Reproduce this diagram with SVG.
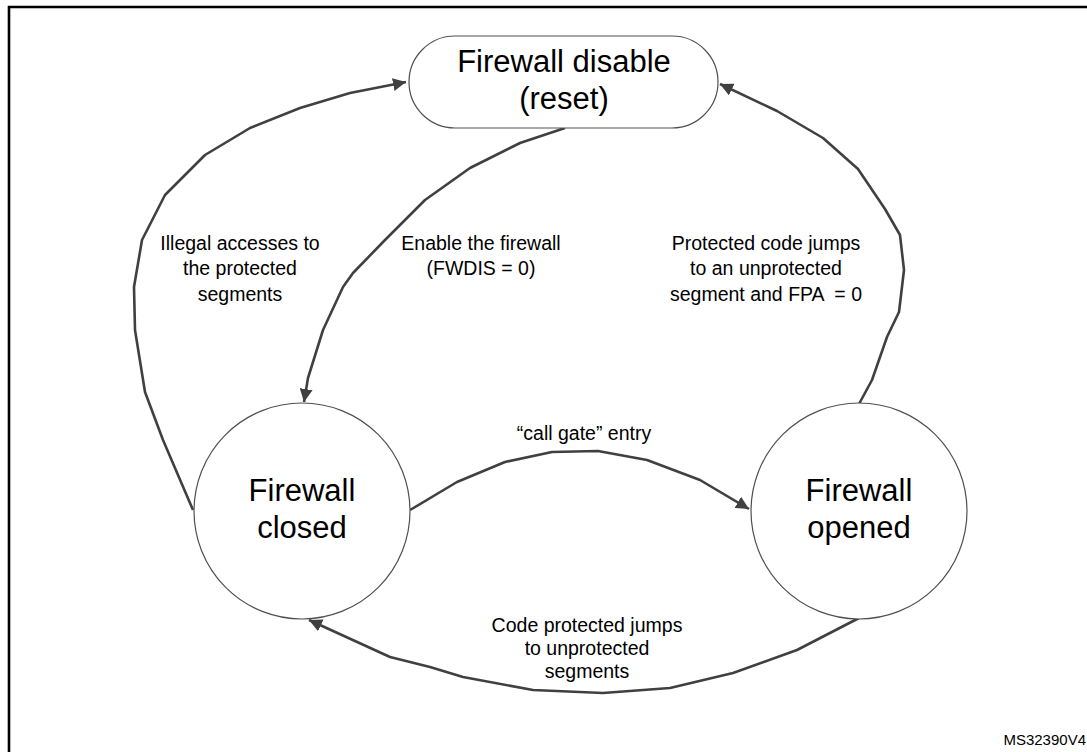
<svg xmlns="http://www.w3.org/2000/svg" width="1087" height="752" viewBox="0 0 1087 752">
<defs>
<marker id="ah" viewBox="0 0 10 10" refX="10" refY="5" markerWidth="5" markerHeight="5" orient="auto" markerUnits="strokeWidth">
<path d="M0,0 L10,5 L0,10 z" fill="#404040"/>
</marker>
<style>
.node{fill:#fff;stroke:#505050;stroke-width:1.2}
.big{font-family:"Liberation Sans",Arial,sans-serif;font-size:31px;fill:#000;text-anchor:middle}
.lbl{font-family:"Liberation Sans",Arial,sans-serif;font-size:19.5px;fill:#000;text-anchor:middle}
.edge{fill:none;stroke:#404040;stroke-width:2.6;stroke-linejoin:round;marker-end:url(#ah)}
</style>
</defs>
<rect width="1087" height="752" fill="#fff"/>
<path d="M9,760 L9,7 L1095,7" fill="none" stroke="#000" stroke-width="2.6"/>
<g id="connectors">
<path class="edge" d="M193,510 L163,440 L145,392 L135,330 L134,287 L142,240 L165,195 L205,155 L250,128 L300,108 L350,93 L406,82"/>
<path class="edge" d="M565,128 L520,143 L470,168 L425,200 L385,240 L353,273 L343,287 L323,330 L308,378 L304,402"/>
<path class="edge" d="M859,404 L872,380 L887,337 L899,312 L904,270 L900,235 L885,209 L858,169 L823,138 L777,111 L720,84"/>
<path class="edge" d="M410,510 L457,482 L505,462 L552,452 L598,451 L647,460 L700,480 L749,509"/>
<path class="edge" d="M859,618 L797,650 L733,673 L670,688 L603,693 L533,690 L463,677 L430,667 L390,657 L309,620"/>
</g>
<g id="n-disable">
<rect class="node" x="409" y="36" width="309" height="92" rx="46" ry="46"/>
<text class="big" x="564" y="72">Firewall disable</text>
<text class="big" x="564" y="109">(reset)</text>
</g>
<g id="n-closed">
<circle class="node" cx="302" cy="511" r="108"/>
<text class="big" x="302" y="501">Firewall</text>
<text class="big" x="302" y="538">closed</text>
</g>
<g id="n-opened">
<circle class="node" cx="859" cy="511" r="108"/>
<text class="big" x="859" y="501">Firewall</text>
<text class="big" x="859" y="538">opened</text>
</g>
<g id="labels">
<text class="lbl" x="240" y="250">Illegal accesses to</text>
<text class="lbl" x="240" y="275">the protected</text>
<text class="lbl" x="240" y="301">segments</text>
<text class="lbl" x="481" y="250">Enable the firewall</text>
<text class="lbl" x="481" y="275">(FWDIS = 0)</text>
<text class="lbl" x="766" y="250">Protected code jumps</text>
<text class="lbl" x="766" y="275">to an unprotected</text>
<text class="lbl" x="766" y="301" xml:space="preserve">segment and FPA  = 0</text>
<text class="lbl" x="584" y="440">“call gate” entry</text>
<text class="lbl" x="587" y="632">Code protected jumps</text>
<text class="lbl" x="587" y="655">to unprotected</text>
<text class="lbl" x="587" y="678">segments</text>
<text x="1086" y="745" style="font-family:'Liberation Sans',Arial,sans-serif;font-size:15px;text-anchor:end">MS32390V4</text>
</g>
</svg>
